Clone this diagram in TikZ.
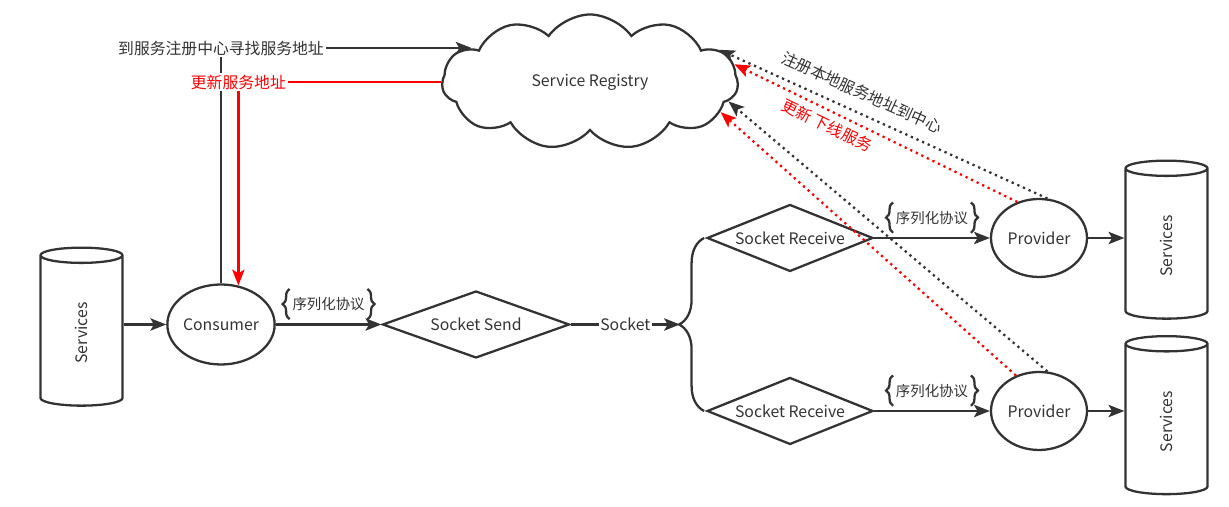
\documentclass[tikz,border=0pt]{standalone}
\usepackage{fontspec}
\setmainfont{Noto Sans CJK SC}
\usepackage{tikz}
\usetikzlibrary{arrows.meta,positioning,shapes.geometric,shapes.symbols,decorations.pathreplacing}
\definecolor{mygray}{HTML}{333333}

\begin{document}
\begin{tikzpicture}[
      font=\fontsize{9}{11}\selectfont,
      myellipse/.style={
         ellipse,
         draw=mygray,
         line width=1.3pt,
         text=mygray,
         inner sep=0pt},
      mydiamond/.style={
         diamond,
         draw=mygray,
         line width=1.3pt,
         text=mygray,
         inner sep=0pt,
         aspect=2.5},
      mycyl/.style={
         cylinder,
         draw=mygray,
         line width=1.3pt,
         text=mygray,
         rotate=90,
         aspect=0.63,
         minimum width=1.64cm,
         minimum height=3.16cm},
      mycloud/.style={
         cloud,
         draw=mygray,
         line width=1.3pt,
         text=mygray,
         cloud puffs=11,
         cloud puff arc=110,
         aspect=2.2,
         inner sep=0pt,
         minimum width=5.92cm,
         minimum height=2.7cm},
      mytext/.style={
         rectangle,
         fill=white,
         inner sep=1pt,
         text=mygray},
      mylabel/.style={
         rectangle,
         inner xsep=1pt,
         minimum height=0.56cm,
         text=mygray,
         font=\fontsize{8.2}{10}\selectfont},
      mybrace/.style={decorate, draw=mygray, line width=1.3pt},
      myarrow/.style={-{Stealth[length=9pt,width=7pt,inset=2pt]}, draw=mygray, line width=1.3pt},
      mydots/.style={myarrow, dash pattern=on 1.3pt off 2.2pt}
      ]
      \useasboundingbox (0,0) rectangle (24.58,10.14);
      \node[mycyl] (srv1) at (1.63,3.48) {Services};
      \node[myellipse, minimum width=2cm, minimum height=1.6cm] (cons) at (4.42,3.65) {Consumer};
      \node[mydiamond, minimum width=3.74cm, minimum height=1.34cm] (send) at (9.52,3.65) {Socket Send};
      \node[mydiamond, minimum width=3.32cm, minimum height=1.34cm] (recv1) at (15.80,5.38) {Socket Receive};
      \node[mydiamond, minimum width=3.32cm, minimum height=1.34cm] (recv2) at (15.80,1.92) {Socket Receive};
      \node[myellipse, minimum width=1.92cm, minimum height=1.56cm] (prov1) at (20.78,5.38) {Provider};
      \node[myellipse, minimum width=1.92cm, minimum height=1.56cm] (prov2) at (20.78,1.92) {Provider};
      \node[mycyl] (srv2) at (23.33,5.22) {Services};
      \node[mycyl] (srv3) at (23.33,1.71) {Services};
      \node[mycloud] (reg) at (11.80,8.50) {Service Registry};
      \coordinate (fork) at (13.60,3.65);
    % cylinders are rotated: their south side is on the right, north on the left
    \draw [myarrow] (srv1.south |- cons) -- (cons);
    \foreach \i/\j in {prov1/srv2, prov2/srv3}
       \draw [myarrow] (\i) -- (\i -| \j.north);
    \foreach \i/\j/\n in {cons/send/b1, recv1/prov1/b2, recv2/prov2/b3}
       \draw [myarrow] (\i) -- node[mylabel, above=3pt] (\n) {序列化协议} (\j);
    \foreach \n in {b1,b2,b3} {
       \draw [mybrace, decoration={brace, amplitude=4pt}] (\n.south west) -- (\n.north west);
       \draw [mybrace, decoration={brace, amplitude=4pt}] (\n.north east) -- (\n.south east);
    }
    \draw [myarrow] (send) -- node[mytext] {Socket} (fork);
    \draw [mybrace, decoration={brace, amplitude=0.5cm}] ([xshift=-1pt]recv2.west) -- ([xshift=-1pt]recv1.west);
    % lookup and update of the service address
    \draw [myarrow] (cons.north) |- node[mytext] {到服务注册中心寻找服务地址} (reg.164);
    \draw [myarrow, draw=red] (reg.west) -| node[mytext, text=red] {更新服务地址} (cons.66);
    % providers register with the registry
    \foreach \i/\j/\c in {prov1.78/reg.14/mygray, prov1.121/reg.7/red, prov2.78/reg.-8/mygray, prov2.123/reg.-13/red}
       \draw [mydots, draw=\c] (\i) -- (\j);
    \path (prov1.78) -- node[mytext, fill=none, sloped, above=6pt, pos=0.59] {注册本地服务地址到中心} (reg.14);
    \path (prov1.121) -- node[mytext, fill=none, text=red, sloped, below=3pt, pos=0.65] {更新 下线服务} (reg.7);
\end{tikzpicture}
\end{document}
